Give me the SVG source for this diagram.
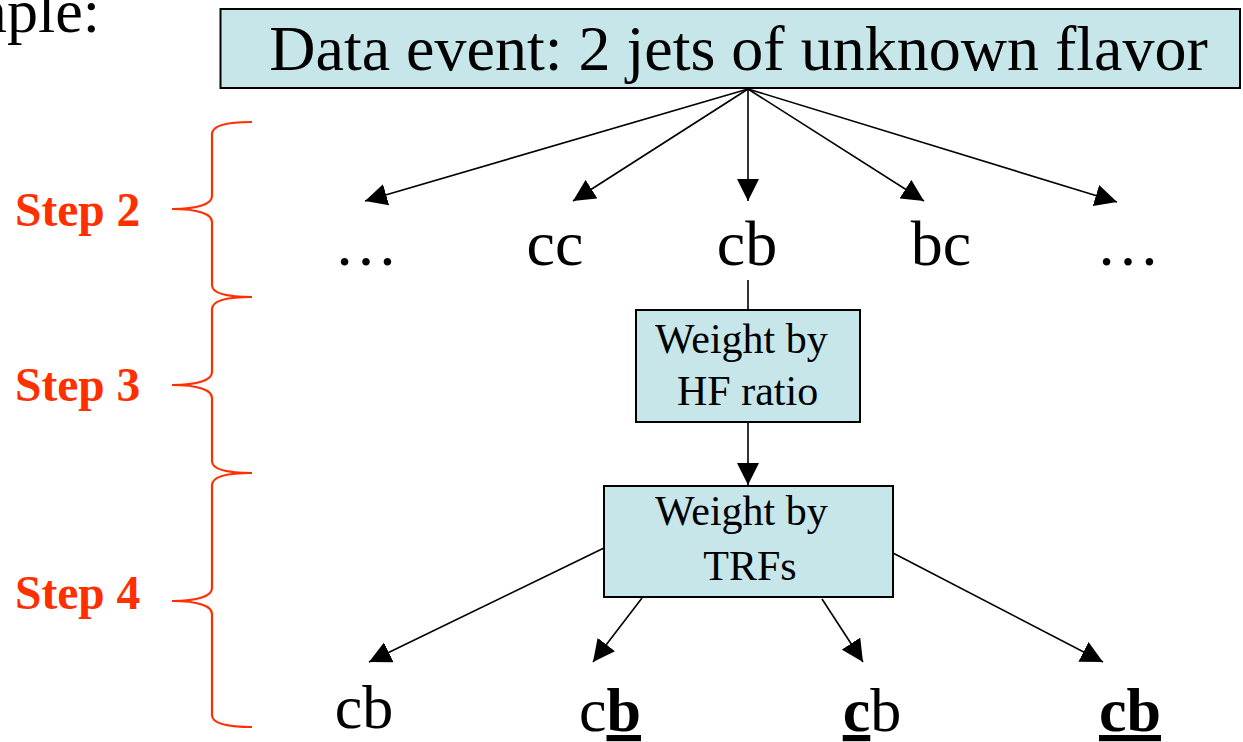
<svg xmlns="http://www.w3.org/2000/svg" width="1243" height="742" viewBox="0 0 1243 742">
<style>
.t{font-family:"Liberation Serif","Times New Roman",serif;fill:#000}
.box{fill:#C6E6EA;stroke:#000;stroke-width:2}
.step{font-family:"Liberation Serif","Times New Roman",serif;font-weight:bold;font-size:47.5px;fill:#FF3000}
.brace{fill:none;stroke:#FF3000;stroke-width:2.2}
.arr{stroke:#000;stroke-width:1.6;fill:none;marker-end:url(#ah)}
.ln{stroke:#000;stroke-width:1.6;fill:none}
.b{font-weight:bold;text-decoration:underline}
</style>
<defs>
<marker id="ah" markerUnits="userSpaceOnUse" markerWidth="22" markerHeight="22" viewBox="0 0 20 20" refX="20" refY="10" orient="auto">
<path d="M0,0 L20,10 L0,20 z" fill="#000"/>
</marker>
</defs>
<rect width="1243" height="742" fill="#fff"/>
<text class="t" x="100" y="32" font-size="62" text-anchor="end">Example:</text>

<g id="connectors">
<line class="arr" x1="748" y1="89" x2="365" y2="201"/>
<line class="arr" x1="748" y1="89" x2="573" y2="201"/>
<line class="arr" x1="748" y1="89" x2="748" y2="201"/>
<line class="arr" x1="748" y1="89" x2="924" y2="201"/>
<line class="arr" x1="748" y1="89" x2="1117" y2="202"/>
<line class="ln" x1="748" y1="280" x2="748" y2="310"/>
<line class="arr" x1="748" y1="422" x2="748" y2="485"/>
<line class="arr" x1="604" y1="548" x2="369" y2="662"/>
<line class="arr" x1="642" y1="598" x2="593" y2="662"/>
<line class="arr" x1="822" y1="599" x2="863" y2="662"/>
<line class="arr" x1="893" y1="553" x2="1103" y2="662"/>
</g>

<g id="top">
<rect class="box" x="220.5" y="9" width="1019.5" height="79"/>
<text class="t" x="738.5" y="70" font-size="64" text-anchor="middle">Data event: 2 jets of unknown flavor</text>
</g>

<g id="row2">
<text class="t" x="366" y="265" font-size="64" text-anchor="middle">…</text>
<text class="t" x="555" y="265" font-size="64" text-anchor="middle">cc</text>
<text class="t" x="747" y="265" font-size="64" text-anchor="middle">cb</text>
<text class="t" x="941" y="265" font-size="64" text-anchor="middle">bc</text>
<text class="t" x="1128" y="265" font-size="64" text-anchor="middle">…</text>
</g>

<g id="hf">
<rect class="box" x="636" y="310" width="224" height="112"/>
<text class="t" x="655" y="353" font-size="42">Weight by</text>
<text class="t" x="677" y="405" font-size="42">HF ratio</text>
</g>

<g id="trf">
<rect class="box" x="604" y="486" width="289" height="111"/>
<text class="t" x="655" y="525" font-size="42">Weight by</text>
<text class="t" x="750" y="580" font-size="42" text-anchor="middle">TRFs</text>
</g>

<g id="row4">
<text class="t" x="364" y="728" font-size="62" text-anchor="middle">cb</text>
<text class="t" x="610" y="731" font-size="62" text-anchor="middle">c<tspan class="b">b</tspan></text>
<text class="t" x="872" y="731" font-size="62" text-anchor="middle"><tspan class="b">c</tspan>b</text>
<text class="t" x="1130" y="731" font-size="62" text-anchor="middle"><tspan class="b">cb</tspan></text>
</g>

<g id="step2">
<path class="brace" d="M252,122 C226,122 212,126 212,134 L212,196 C212,204 198,209 172,209 C198,209 212,214 212,222 L212,285 C212,293 226,297 252,297"/>
<text class="step" x="15" y="226">Step 2</text>
</g>
<g id="step3">
<path class="brace" d="M252,297 C226,297 212,301 212,309 L212,372 C212,380 198,385 172,385 C198,385 212,390 212,398 L212,461 C212,469 226,473 252,473"/>
<text class="step" x="15" y="401">Step 3</text>
</g>
<g id="step4">
<path class="brace" d="M252,473 C226,473 212,477 212,485 L212,588 C212,596 198,601 172,601 C198,601 212,606 212,614 L212,715 C212,723 226,727 252,727"/>
<text class="step" x="15" y="609">Step 4</text>
</g>
</svg>
